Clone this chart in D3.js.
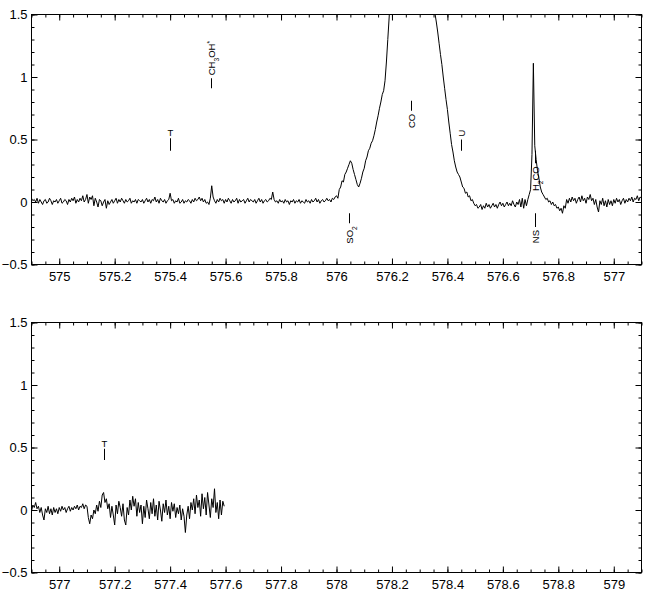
<!DOCTYPE html>
<html><head><meta charset="utf-8">
<script src="https://cdn.jsdelivr.net/npm/d3@7"></script>
<style>
body{margin:0;background:#fff}
text{font-family:"Liberation Sans",Arial,Helvetica,sans-serif}
</style>
</head><body>
<svg id="chart" width="647" height="616"></svg>
<script>
// ---------- DATA ----------
const freqStart = 574.9;      // GHz, first channel
const channelWidth = 0.005;   // GHz per channel
const intensity = [
// 574.900
0.03,0.01,0.02,0.00,0.03,-0.01,0.02,0.00,-0.02,0.01,0.02,-0.01,0.00,0.03,0.01,-0.02,0.01,0.00,0.02,-0.01,
// 575.000
0.01,0.03,-0.01,0.00,0.02,0.01,-0.02,0.02,0.00,0.03,0.01,0.04,-0.01,0.02,0.00,0.03,0.01,0.05,0.00,0.02,
// 575.100
0.06,-0.01,0.04,0.02,0.05,-0.03,0.03,0.00,-0.04,0.02,0.01,-0.03,0.00,0.02,-0.05,0.01,-0.02,0.00,0.02,-0.01,
// 575.200
0.01,0.03,-0.01,0.02,0.00,0.03,0.01,-0.01,0.02,0.00,0.01,0.03,-0.01,0.01,0.00,0.02,-0.01,0.02,0.01,0.00,
// 575.300
0.02,-0.01,0.01,0.03,0.00,0.02,-0.01,0.02,0.01,0.04,0.00,0.02,-0.01,0.03,0.01,0.00,0.02,-0.01,0.01,0.02,
// 575.400
0.07,0.01,0.02,-0.01,0.01,0.00,0.03,-0.01,0.00,0.02,-0.01,0.01,0.00,0.02,0.01,-0.01,0.02,0.00,0.03,0.01,
// 575.500
0.02,0.04,0.01,0.03,0.00,0.02,-0.01,0.00,-0.02,0.03,0.13,0.04,0.01,-0.01,0.02,0.00,0.03,0.01,0.02,-0.01,
// 575.600
0.02,0.00,0.03,0.01,-0.01,0.02,0.00,0.01,0.03,-0.01,0.02,0.00,0.01,0.02,-0.01,0.01,0.03,0.00,0.02,0.01,
// 575.700
0.00,0.02,-0.01,0.01,0.03,0.00,0.02,-0.01,0.01,0.02,0.00,0.01,0.03,0.02,0.08,0.02,0.00,0.01,-0.01,0.02,
// 575.800
0.00,0.01,-0.01,0.02,0.00,0.01,-0.02,0.01,0.00,0.02,-0.01,0.01,0.00,0.02,-0.01,0.01,0.00,-0.01,0.02,0.00,
// 575.900
0.01,-0.01,0.02,0.00,0.01,0.03,0.00,0.02,-0.01,0.01,0.02,0.00,0.01,0.03,0.01,0.02,0.00,0.03,0.02,0.04,
// 576.000
0.05,0.03,0.10,0.12,0.17,0.16,0.22,0.24,0.27,0.30,0.33,0.31,0.26,0.22,0.18,0.14,0.12,0.15,0.19,0.24,
// 576.100
0.27,0.33,0.36,0.41,0.43,0.47,0.49,0.53,0.58,0.64,0.69,0.75,0.80,0.86,0.89,0.97,1.12,1.30,1.48,1.72,
// 576.200
1.98,2.3,2.7,3.1,3.5,3.9,4.3,4.6,4.9,5.1,5.3,5.4,5.4,5.3,5.1,4.9,4.6,4.3,4.0,3.7,
// 576.300
3.4,3.1,2.8,2.55,2.3,2.1,1.95,1.82,1.72,1.64,1.57,1.51,1.44,1.36,1.27,1.18,1.10,1.00,0.91,0.82,
// 576.400
0.74,0.64,0.55,0.46,0.40,0.33,0.28,0.24,0.22,0.20,0.16,0.12,0.11,0.07,0.08,0.04,0.05,0.01,0.02,-0.01,
// 576.500
-0.03,-0.02,-0.05,-0.04,-0.02,-0.06,-0.03,-0.05,-0.01,-0.04,-0.02,-0.05,-0.03,-0.01,-0.04,-0.02,-0.05,-0.02,0.00,-0.03,
// 576.600
-0.01,-0.04,-0.02,0.00,-0.03,-0.01,-0.03,0.01,-0.02,-0.04,0.00,-0.02,0.02,-0.04,0.03,-0.05,0.02,-0.03,0.02,0.06,
// 576.700
0.10,0.38,1.11,0.45,0.34,0.25,0.19,0.12,0.08,0.06,0.04,0.02,0.03,0.00,0.01,-0.02,0.00,-0.03,-0.02,-0.05,
// 576.800
-0.04,-0.07,-0.05,-0.09,-0.03,-0.05,0.02,-0.01,0.03,0.00,0.04,0.01,0.03,-0.01,0.02,0.04,0.00,0.05,0.01,0.03,
// 576.900
-0.01,0.04,0.02,0.06,0.01,0.03,-0.02,0.02,-0.04,-0.08,0.01,-0.02,0.03,-0.03,0.01,-0.04,0.02,-0.02,0.01,-0.03,
// 577.000
0.02,-0.01,0.03,0.00,0.02,-0.02,0.01,0.03,-0.01,0.02,0.00,0.03,0.01,0.04,0.00,0.03,0.02,0.05,0.01,0.04,
// 577.100
0.03,-0.06,-0.11,-0.04,-0.07,0.00,-0.03,0.04,-0.01,0.07,0.02,0.12,0.14,0.06,0.09,0.01,0.05,-0.06,0.03,-0.04,
// 577.200
-0.12,0.04,-0.03,0.07,0.02,-0.05,0.05,-0.08,-0.12,0.02,-0.04,0.08,0.00,0.11,0.03,0.09,-0.05,0.06,-0.02,0.04,
// 577.300
-0.11,0.03,-0.06,0.08,0.01,-0.07,0.06,-0.03,0.09,-0.05,0.04,-0.08,0.07,0.00,-0.09,0.05,-0.02,0.08,-0.04,0.03,
// 577.400
-0.07,0.06,-0.01,0.05,-0.06,0.02,-0.03,0.04,-0.08,0.01,-0.05,-0.18,-0.04,0.03,-0.07,0.06,0.00,0.09,-0.03,0.12,
// 577.500
0.02,0.08,-0.05,0.13,0.01,0.10,-0.04,0.14,0.04,-0.06,0.09,0.02,0.17,-0.02,0.06,-0.07,0.08,-0.04,0.07,0.03
];

const panelRanges = [[574.9, 577.1], [576.9, 579.1]];
const xTickValues = [
  [575, 575.2, 575.4, 575.6, 575.8, 576, 576.2, 576.4, 576.6, 576.8, 577],
  [577, 577.2, 577.4, 577.6, 577.8, 578, 578.2, 578.4, 578.6, 578.8, 579]
];
const xTickLabels = [
  ["575","575.2","575.4","575.6","575.8","576","576.2","576.4","576.6","576.8","577"],
  ["577","577.2","577.4","577.6","577.8","578","578.2","578.4","578.6","578.8","579"]
];
const yRange = [-0.5, 1.5];
const yTickValues = [-0.5, 0, 0.5, 1, 1.5];
const yTickLabels = ["\u22120.5", "0", "0.5", "1", "1.5"];

// line identifications: panel, label (_x = subscript, ^x = superscript), freq, marker from/to, text side
const annoPanel = [0, 0, 0, 0, 0, 0, 0, 1];
const annoLabel = ["T", "CH_3OH^*", "SO_2", "CO", "U", "H_2CO", "NS", "T"];
const annoFreq  = [575.40, 575.549, 576.044, 576.269, 576.449, 576.716, 576.716, 577.161];
const annoFrom  = [0.41, 0.91, -0.17, 0.73, 0.41, 0.31, -0.20, 0.40];
const annoTo    = [0.51, 0.99, -0.09, 0.81, 0.50, 0.41, -0.09, 0.49];
const annoSide  = ["up", "above", "below", "below", "above", "below", "below", "up"];

// ---------- DRAW ----------
const svg = d3.select("#chart");
const left = 31.5, right = 641.5;
const panelBox = [{top: 14.5, bottom: 264.5}, {top: 322.5, bottom: 572.5}];
const channelFreqs = intensity.map((_, i) => +(freqStart + i * channelWidth).toFixed(4));

function addLabel(sel, label) {
  const parts = label.match(/(_.|\^.|[^_^]+)/g);
  parts.forEach(p => {
    if (p[0] === "_") sel.append("tspan").attr("baseline-shift", "sub").attr("font-size", "70%").text(p.slice(1));
    else if (p[0] === "^") sel.append("tspan").attr("baseline-shift", "super").attr("font-size", "70%").text(p.slice(1));
    else sel.append("tspan").text(p);
  });
}

panelRanges.forEach((dom, pi) => {
  const box = panelBox[pi];
  const x = d3.scaleLinear().domain(dom).range([left, right]);
  const y = d3.scaleLinear().domain(yRange).range([box.bottom, box.top]);
  const g = svg.append("g");

  const clipId = "clip" + pi;
  svg.append("clipPath").attr("id", clipId).append("rect")
    .attr("x", left).attr("y", box.top).attr("width", right - left).attr("height", box.bottom - box.top);

  const pts = channelFreqs.map((f, i) => [f, intensity[i]])
    .filter(d => d[0] >= dom[0] - 0.01 && d[0] <= dom[1] + 0.01);
  g.append("path")
    .attr("clip-path", `url(#${clipId})`)
    .attr("d", d3.line().x(d => x(d[0])).y(d => y(d[1]))(pts))
    .attr("fill", "none").attr("stroke", "#000").attr("stroke-width", 1)
    .attr("stroke-linejoin", "round");

  const minorX = d3.range(Math.round(dom[0] * 20), Math.round(dom[1] * 20) + 1).map(v => v / 20);
  const minorY = d3.range(-5, 16).map(v => v / 10);
  const fontSize = 13;

  const tidy = s => s.select(".domain").remove();

  // bottom axis
  g.append("g").attr("transform", `translate(0,${box.bottom})`)
    .call(d3.axisBottom(x).tickValues(minorX).tickSize(-3).tickFormat("")).call(tidy);
  g.append("g").attr("transform", `translate(0,${box.bottom})`)
    .call(d3.axisBottom(x).tickValues(xTickValues[pi]).tickSize(-6).tickPadding(7)
      .tickFormat((d, i) => xTickLabels[pi][i])).call(tidy)
    .selectAll("text").attr("font-size", fontSize).attr("fill", "#000");
  // top axis
  g.append("g").attr("transform", `translate(0,${box.top})`)
    .call(d3.axisTop(x).tickValues(minorX).tickSize(-3).tickFormat("")).call(tidy);
  g.append("g").attr("transform", `translate(0,${box.top})`)
    .call(d3.axisTop(x).tickValues(xTickValues[pi]).tickSize(-6).tickFormat("")).call(tidy);
  // left axis
  g.append("g").attr("transform", `translate(${left},0)`)
    .call(d3.axisLeft(y).tickValues(minorY).tickSize(-3).tickFormat("")).call(tidy);
  g.append("g").attr("transform", `translate(${left},0)`)
    .call(d3.axisLeft(y).tickValues(yTickValues).tickSize(-6).tickPadding(4)
      .tickFormat((d, i) => yTickLabels[i])).call(tidy)
    .selectAll("text").attr("font-size", fontSize).attr("fill", "#000");
  // right axis
  g.append("g").attr("transform", `translate(${right},0)`)
    .call(d3.axisRight(y).tickValues(minorY).tickSize(-3).tickFormat("")).call(tidy);
  g.append("g").attr("transform", `translate(${right},0)`)
    .call(d3.axisRight(y).tickValues(yTickValues).tickSize(-6).tickFormat("")).call(tidy);
  g.selectAll(".tick line").attr("stroke", "#000");

  // frame
  g.append("rect").attr("x", left).attr("y", box.top)
    .attr("width", right - left).attr("height", box.bottom - box.top)
    .attr("fill", "none").attr("stroke", "#000").attr("stroke-width", 1);

  // annotations
  annoLabel.forEach((lab, k) => {
    if (annoPanel[k] !== pi) return;
    const ax = Math.round(x(annoFreq[k])) + 0.5;
    const yLo = y(annoFrom[k]), yHi = y(annoTo[k]);
    g.append("line").attr("x1", ax).attr("x2", ax).attr("y1", yLo).attr("y2", yHi)
      .attr("stroke", "#000").attr("stroke-width", 1);
    const t = g.append("text").attr("font-size", 9.5).attr("fill", "#000");
    if (annoSide[k] === "up") {
      t.attr("x", ax).attr("y", yHi - 2).attr("text-anchor", "middle");
    } else if (annoSide[k] === "above") {
      t.attr("transform", `translate(${ax + 3.3},${yHi - 3}) rotate(-90)`).attr("text-anchor", "start");
    } else {
      t.attr("transform", `translate(${ax + 3.3},${yLo + 3}) rotate(-90)`).attr("text-anchor", "end");
    }
    addLabel(t, lab);
  });
});
</script>
</body></html>
